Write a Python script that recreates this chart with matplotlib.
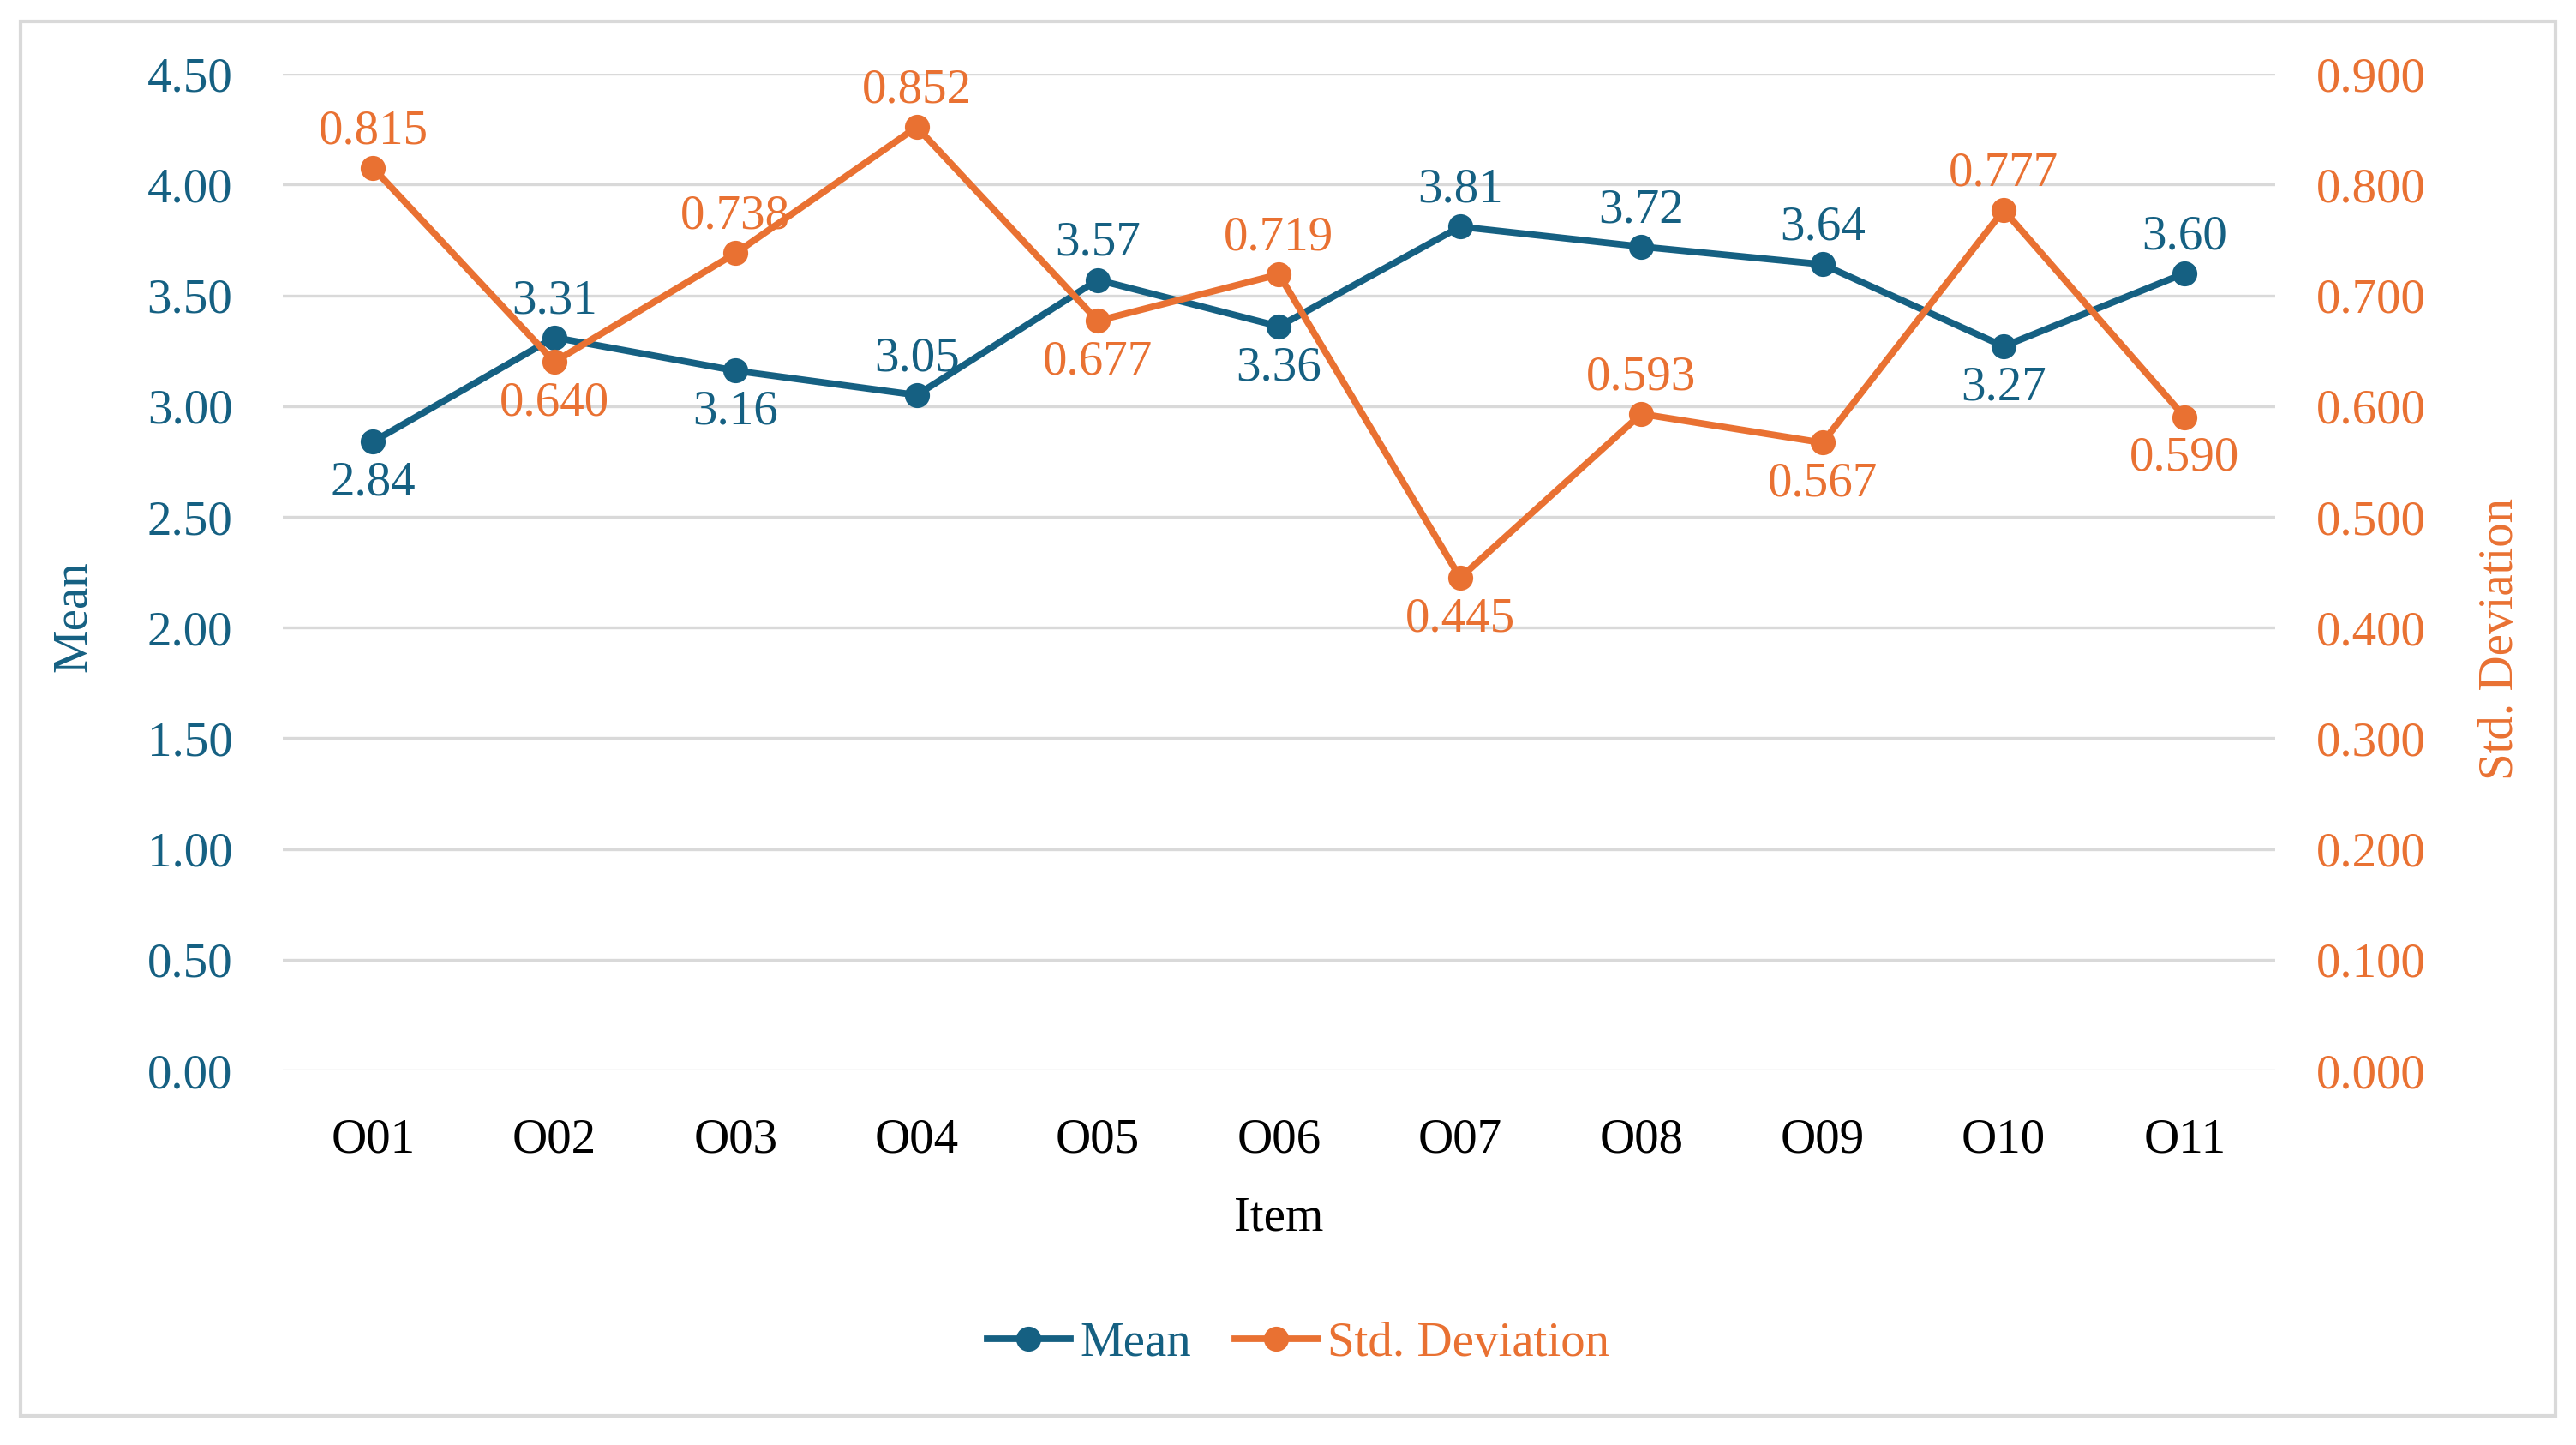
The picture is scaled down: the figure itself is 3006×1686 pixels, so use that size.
import matplotlib
matplotlib.use("Agg")
from matplotlib import pyplot as plt
from matplotlib.patches import Rectangle

items = ["O01", "O02", "O03", "O04", "O05", "O06", "O07", "O08", "O09", "O10", "O11"]
mean = [2.84, 3.31, 3.16, 3.05, 3.57, 3.36, 3.81, 3.72, 3.64, 3.27, 3.60]
sd = [0.815, 0.640, 0.738, 0.852, 0.677, 0.719, 0.445, 0.593, 0.567, 0.777, 0.590]
# label placement: 1 = above the point, -1 = below
mean_side = [-1, 1, -1, 1, 1, -1, 1, 1, 1, -1, 1]
sd_side = [1, -1, 1, 1, -1, 1, -1, 1, -1, 1, -1]

blue = "#156082"
orange = "#E97132"
plt.rcParams['font.family'] = ['Liberation Serif', 'DejaVu Serif']
fs = 20.5

fig = plt.figure(figsize=(15.03, 8.43), dpi=200)
ax = fig.add_axes([0.1097, 0.2591, 0.7736, 0.6898])
ax2 = ax.twinx()

x = list(range(len(items)))
ax.plot(x, mean, color=blue, lw=2.8, marker="o", ms=9.5, label="Mean", zorder=3)
ax2.plot(x, sd, color=orange, lw=2.8, marker="o", ms=9.5, label="Std. Deviation", zorder=3)

def off(side):
    return 6 if side > 0 else -8

for i in x:
    ax.annotate("%.2f" % mean[i], (i, mean[i]), xytext=(0, off(mean_side[i])),
                textcoords="offset points", ha="center",
                va="bottom" if mean_side[i] > 0 else "top", color=blue, fontsize=fs)
    ax2.annotate("%.3f" % sd[i], (i, sd[i]), xytext=(0, off(sd_side[i])),
                 textcoords="offset points", ha="center",
                 va="bottom" if sd_side[i] > 0 else "top", color=orange, fontsize=fs)

ax.set_xlim(-0.5, len(items) - 0.5)
ax.set_ylim(0, 4.5)
ax2.set_ylim(0, 0.9)
ax.set_yticks([i * 0.5 for i in range(10)])
ax.set_yticklabels(["%.2f" % (i * 0.5) for i in range(10)])
ax2.set_yticks([i * 0.1 for i in range(10)])
ax2.set_yticklabels(["%.3f" % (i * 0.1) for i in range(10)])
ax.set_xticks(x)
ax.set_xticklabels(items)

ax.grid(axis="y", color="#D9D9D9", lw=1.2)
ax.set_axisbelow(True)
for a in (ax, ax2):
    for s in a.spines.values():
        s.set_visible(False)
ax.tick_params(axis="y", length=0, pad=21, labelsize=fs, labelcolor=blue)
ax.tick_params(axis="x", length=0, pad=20, labelsize=fs, labelcolor="black")
ax2.tick_params(axis="y", length=0, pad=17, labelsize=fs, labelcolor=orange)

ax.set_xlabel("Item", fontsize=fs, labelpad=14)
ax.set_ylabel("Mean", fontsize=fs, color=blue, va="center")
ax.yaxis.set_label_coords(-0.105, 0.456)
ax2.set_ylabel("Std. Deviation", fontsize=fs, color=orange, va="center")
ax2.yaxis.set_label_coords(1.113, 0.433)

h1, l1 = ax.get_legend_handles_labels()
h2, l2 = ax2.get_legend_handles_labels()
leg = fig.legend(h1 + h2, l1 + l2, loc="center", bbox_to_anchor=(0.504, 0.07),
                 ncol=2, frameon=False, fontsize=fs, handlelength=1.7,
                 columnspacing=0.9, handletextpad=0.2)
leg.get_texts()[0].set_color(blue)
leg.get_texts()[1].set_color(orange)

fig.patches.append(Rectangle((0.008, 0.02), 0.984, 0.965, transform=fig.transFigure,
                             fill=False, edgecolor="#D9D9D9", lw=1.5))

fig.savefig("out.png", dpi=200, facecolor="white")
